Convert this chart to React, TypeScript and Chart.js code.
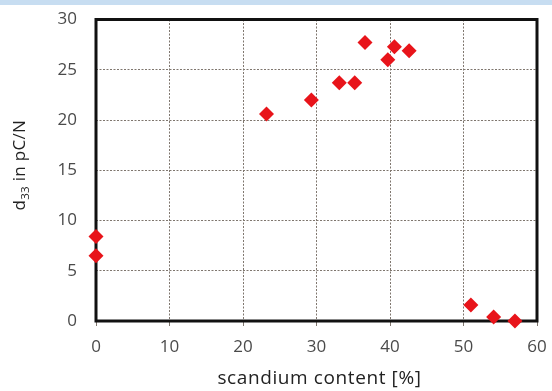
import React, { useEffect, useRef } from "react";
import { Chart, registerables } from "chart.js";

Chart.register(...registerables);

const scandium: number[] = [0, 0, 23.2, 29.3, 33.1, 35.2, 36.6, 39.7, 40.6, 42.6, 51.0, 54.1, 57.0];
const d33: number[] = [8.4, 6.5, 20.6, 22.0, 23.7, 23.7, 27.7, 26.0, 27.3, 26.9, 1.6, 0.4, 0.0];
const xTicks: number[] = [0, 10, 20, 30, 40, 50, 60];
const yTicks: number[] = [0, 5, 10, 15, 20, 25, 30];
const xTitle = "scandium content [%]";
const yTitleMain = "d";
const yTitleSub = "33";
const yTitleRest = " in pC/N";

const FONT = '"Open Sans", "Noto Sans", sans-serif';

const framePlugin = {
  id: "frame",
  beforeDatasetsDraw(chart: any) {
    const { ctx, chartArea: ca } = chart;
    ctx.save();
    ctx.strokeStyle = "#111";
    ctx.lineWidth = 3;
    ctx.strokeRect(ca.left, ca.top, ca.right - ca.left, ca.bottom - ca.top);
    ctx.restore();
  },
  afterDraw(chart: any) {
    const { ctx, chartArea: ca } = chart;
    ctx.save();
    ctx.fillStyle = "#222";
    ctx.font = `19px ${FONT}`;
    (ctx as any).letterSpacing = "0.6px";
    ctx.textAlign = "center";
    ctx.textBaseline = "alphabetic";
    ctx.fillText(xTitle, (ca.left + ca.right) / 2 + 3, 384);
    (ctx as any).letterSpacing = "0.3px";
    const big = `17px ${FONT}`;
    const small = `11.5px ${FONT}`;
    ctx.font = big;
    const w1 = ctx.measureText(yTitleMain).width;
    const w3 = ctx.measureText(yTitleRest).width;
    ctx.font = small;
    const w2 = ctx.measureText(yTitleSub).width;
    const total = w1 + w2 + w3;
    ctx.translate(25, (ca.top + ca.bottom) / 2 - 5);
    ctx.rotate(-Math.PI / 2);
    ctx.textAlign = "left";
    let x = -total / 2;
    ctx.font = big;
    ctx.fillText(yTitleMain, x, 0);
    x += w1;
    ctx.font = small;
    ctx.fillText(yTitleSub, x, 4);
    x += w2;
    ctx.font = big;
    ctx.fillText(yTitleRest, x, 0);
    ctx.restore();
  },
};

export default function App() {
  const ref = useRef<HTMLCanvasElement | null>(null);
  useEffect(() => {
    if (!ref.current) return;
    const points = scandium.map((x, i) => ({ x, y: d33[i] }));
    const chart = new Chart(ref.current, {
      type: "scatter",
      data: {
        datasets: [
          {
            data: points,
            pointStyle: "rectRot",
            pointRadius: 7.5,
            pointHoverRadius: 7.5,
            backgroundColor: "#e8141a",
            borderColor: "#e8141a",
            borderWidth: 0,
            clip: false,
          } as any,
        ],
      },
      options: {
        responsive: false,
        animation: false,
        devicePixelRatio: 1,
        layout: { padding: { left: 0, top: 19.5, right: 15, bottom: 0 } },
        plugins: { legend: { display: false }, tooltip: { enabled: false } },
        scales: {
          x: {
            type: "linear",
            min: xTicks[0],
            max: xTicks[xTicks.length - 1],
            afterBuildTicks: (s: any) => {
              s.ticks = xTicks.map((v) => ({ value: v }));
            },
            afterFit: (s: any) => {
              s.height = 70;
              s.paddingLeft = 0;
              s.paddingRight = 0;
            },
            grid: { color: "#7f766e", lineWidth: 1, drawTicks: true, tickLength: 5 },
            border: { display: false, dash: [2, 1.5] },
            ticks: {
              color: "#4a4a4a",
              font: { family: FONT, size: 17 },
              padding: 11,
              maxRotation: 0,
            },
          },
          y: {
            type: "linear",
            min: yTicks[0],
            max: yTicks[yTicks.length - 1],
            afterBuildTicks: (s: any) => {
              s.ticks = yTicks.map((v) => ({ value: v }));
            },
            afterFit: (s: any) => {
              s.width = 96;
              s.paddingTop = 0;
              s.paddingBottom = 0;
            },
            grid: { color: "#7f766e", lineWidth: 1, drawTicks: false },
            border: { display: false, dash: [2, 1.5] },
            ticks: {
              color: "#4a4a4a",
              font: { family: FONT, size: 17 },
              padding: 19,
            },
          },
        },
      },
      plugins: [framePlugin],
    });
    return () => chart.destroy();
  }, []);

  return (
    <div style={{ position: "fixed", left: 0, top: 0, width: 552, height: 391, background: "#fff" }}>
      <canvas ref={ref} width={552} height={391} style={{ position: "absolute", left: 0, top: 0 }} />
      <div style={{ position: "absolute", left: 0, top: 0, width: 552, height: 5, background: "#c7ddf1" }} />
    </div>
  );
}
